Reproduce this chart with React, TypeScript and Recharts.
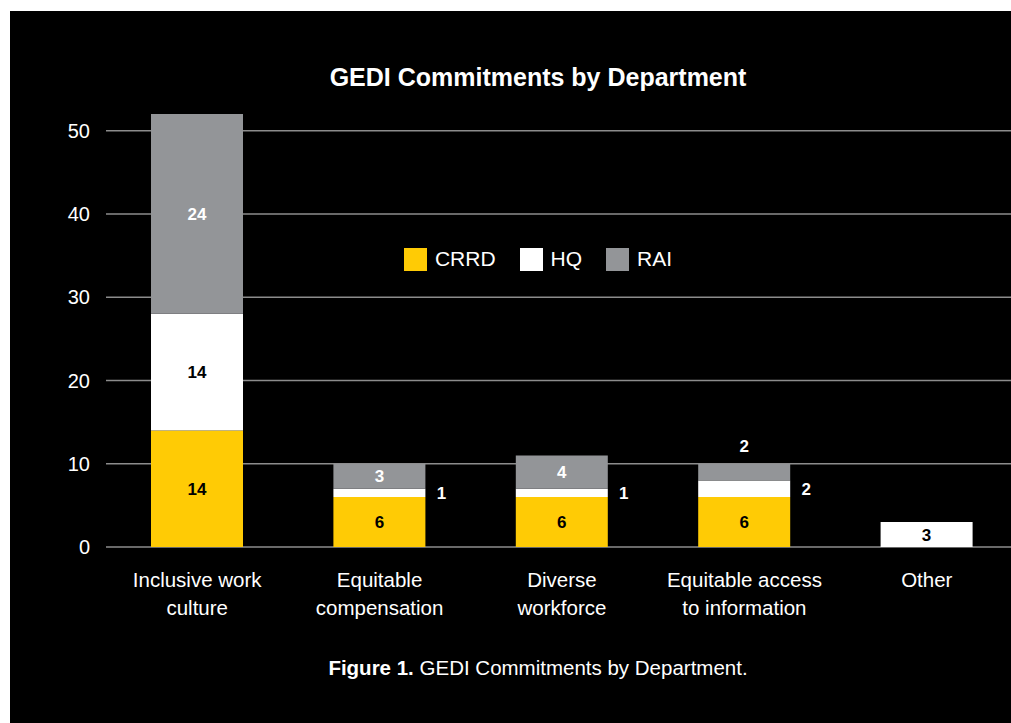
import React from 'react';
import { BarChart, Bar, XAxis, YAxis, CartesianGrid, LabelList } from 'recharts';

const categories = [
  'Inclusive work|culture',
  'Equitable|compensation',
  'Diverse|workforce',
  'Equitable access|to information',
  'Other',
];
const crrd = [14, 6, 6, 6, 0];
const hq = [14, 1, 1, 2, 3];
const rai = [24, 3, 4, 2, 0];
const yTicks = [0, 10, 20, 30, 40, 50];

const data = categories.map((name, i) => ({ name, CRRD: crrd[i], HQ: hq[i], RAI: rai[i] }));

const YELLOW = '#ffcb05';
const WHITE = '#ffffff';
const GRAY = '#939598';
const FONT = '"Liberation Sans", Arial, Helvetica, sans-serif';

const series = [
  { key: 'CRRD', color: YELLOW, text: '#000000' },
  { key: 'HQ', color: WHITE, text: '#000000' },
  { key: 'RAI', color: GRAY, text: '#ffffff' },
];

// small segments get their number outside the bar (above if top of stack, else to the right)
function makeLabel(textColor: string, isTop: boolean) {
  return (props: any) => {
    const { x, y, width, height, value } = props;
    if (!value) return null;
    let tx = Number(x) + Number(width) / 2;
    let ty = Number(y) + Number(height) / 2;
    let fill = textColor;
    if (Math.abs(Number(height)) < 20) {
      fill = '#ffffff';
      if (isTop) {
        ty = Number(y) - 18;
      } else {
        tx = Number(x) + Number(width) + 16;
      }
    }
    return (
      <text x={tx} y={ty} dy="0.36em" textAnchor="middle" fill={fill}
        fontFamily={FONT} fontSize={17} fontWeight="bold">
        {value}
      </text>
    );
  };
}

function CategoryTick(props: any) {
  const { x, y, payload } = props;
  const lines = String(payload.value).split('|');
  return (
    <text x={x} y={y + 40} textAnchor="middle" fill="#ffffff" fontFamily={FONT} fontSize={20.5}>
      {lines.map((l, i) => (
        <tspan key={i} x={x} dy={i === 0 ? 0 : 28}>{l}</tspan>
      ))}
    </text>
  );
}

export default function App() {
  return (
    <div style={{ position: 'absolute', left: 10, top: 11, width: 1001, height: 712, background: '#000', overflow: 'hidden' }}>
      <div style={{ position: 'absolute', top: 51, left: 0, width: 1056, textAlign: 'center', color: '#fff', fontFamily: FONT, fontSize: 25, fontWeight: 'bold', lineHeight: '30px' }}>
        GEDI Commitments by Department
      </div>
      <div style={{ position: 'absolute', top: 0, left: 0 }}>
        <BarChart width={1010} height={640} data={data} margin={{ top: 78, right: 2, left: 0, bottom: 24 }} barSize={92}>
          <CartesianGrid vertical={false} horizontalValues={yTicks} stroke="#8c8c8c" strokeWidth={1.5} />
          <XAxis dataKey="name" axisLine={false} tickLine={false} tickSize={0} tickMargin={0} height={80}
            tick={<CategoryTick />} interval={0} />
          <YAxis domain={[0, 55]} ticks={yTicks} axisLine={false} tickLine={false} tickSize={0} tickMargin={16} width={96}
            tick={{ fill: '#ffffff', fontSize: 20, fontFamily: FONT }} />
          {series.map((s, i) => (
            <Bar key={s.key} dataKey={s.key} stackId="a" fill={s.color} isAnimationActive={false}>
              <LabelList dataKey={s.key} content={makeLabel(s.text, i === series.length - 1)} />
            </Bar>
          ))}
        </BarChart>
      </div>
      <div style={{ position: 'absolute', top: 236, left: 0, width: 1056, display: 'flex', justifyContent: 'center', gap: 24, fontFamily: FONT, fontSize: 21, color: '#fff' }}>
        {series.map((s) => (
          <div key={s.key} style={{ display: 'flex', alignItems: 'center', gap: 8 }}>
            <div style={{ width: 23, height: 23, background: s.color }} />
            <span>{s.key}</span>
          </div>
        ))}
      </div>
      <div style={{ position: 'absolute', top: 644, left: 0, width: 1056, textAlign: 'center', color: '#fff', fontFamily: FONT, fontSize: 20.5, lineHeight: '26px' }}>
        <b>Figure 1.</b> GEDI Commitments by Department.
      </div>
    </div>
  );
}
